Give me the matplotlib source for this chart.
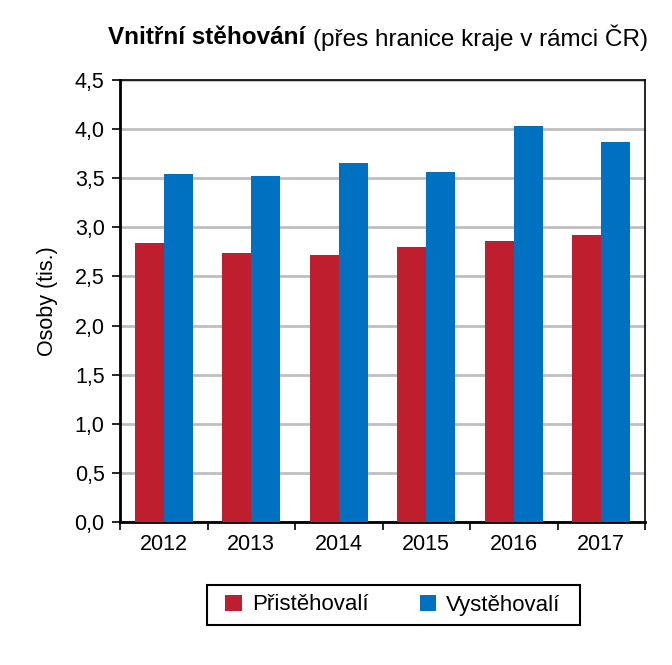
import matplotlib.pyplot as plt
import numpy as np
from matplotlib.patches import Rectangle
from matplotlib.ticker import FixedLocator, MultipleLocator

plt.rcParams["font.family"] = ["Liberation Sans", "DejaVu Sans"]

years = ["2012", "2013", "2014", "2015", "2016", "2017"]
prist = [2.84, 2.74, 2.72, 2.80, 2.86, 2.92]
vyst = [3.54, 3.52, 3.66, 3.56, 4.03, 3.87]
series_names = ["Přistěhovalí", "Vystěhovalí"]
colors = ["#BE1E2D", "#0070C0"]

W, H = 672, 665
fig = plt.figure(figsize=(W / 100, H / 100), dpi=100)
ax = fig.add_axes([120 / W, 143 / H, 525 / W, 442 / H])

x = np.arange(len(years))
w = 0.33
ax.bar(x - w / 2, prist, w, color=colors[0], label=series_names[0], zorder=3)
ax.bar(x + w / 2, vyst, w, color=colors[1], label=series_names[1], zorder=3)

ax.set_xlim(-0.5, len(years) - 0.5)
ax.set_ylim(0, 4.5)
ax.yaxis.set_major_locator(MultipleLocator(0.5))
ax.set_yticklabels([f"{v:.1f}".replace(".", ",") for v in ax.get_yticks()])
ax.grid(axis="y", color="#BFBFBF", linewidth=2, zorder=0)

ax.set_xticks(x)
ax.set_xticklabels(years)
ax.xaxis.set_minor_locator(FixedLocator(np.arange(-0.5, len(years), 1.0)))
ax.tick_params(axis="x", which="major", length=0, labelsize=15.5, pad=9)
ax.tick_params(axis="x", which="minor", length=6, width=1.2, direction="out")
ax.tick_params(axis="y", length=6, width=1.2, labelsize=15.5, pad=5)

for side in ["top", "right"]:
    ax.spines[side].set_linewidth(1.2)
for side in ["left", "bottom"]:
    ax.spines[side].set_linewidth(2)

ax.set_ylabel("Osoby (tis.)", fontsize=15.5, labelpad=12)

fig.text(305 / W, 627 / H, "Vnitřní stěhování", ha="right", va="center",
         fontsize=17.5, fontweight="bold")
fig.text(313 / W, 627 / H, "(přes hranice kraje v rámci ČR)", ha="left", va="center",
         fontsize=17.5)

# legend entries without their own frame; box drawn separately (wider than tall padding)
fig.legend(loc="center", bbox_to_anchor=(393 / W, 60 / H), ncol=2,
           fontsize=16, frameon=False, borderpad=0, borderaxespad=0,
           handlelength=0.75, handleheight=0.75, handletextpad=0.45, columnspacing=2.3)
fig.patches.append(Rectangle((207 / W, 40 / H), 373 / W, 40 / H, transform=fig.transFigure,
                             fill=False, edgecolor="black", linewidth=1.5))

fig.savefig("out.png", dpi=100)
